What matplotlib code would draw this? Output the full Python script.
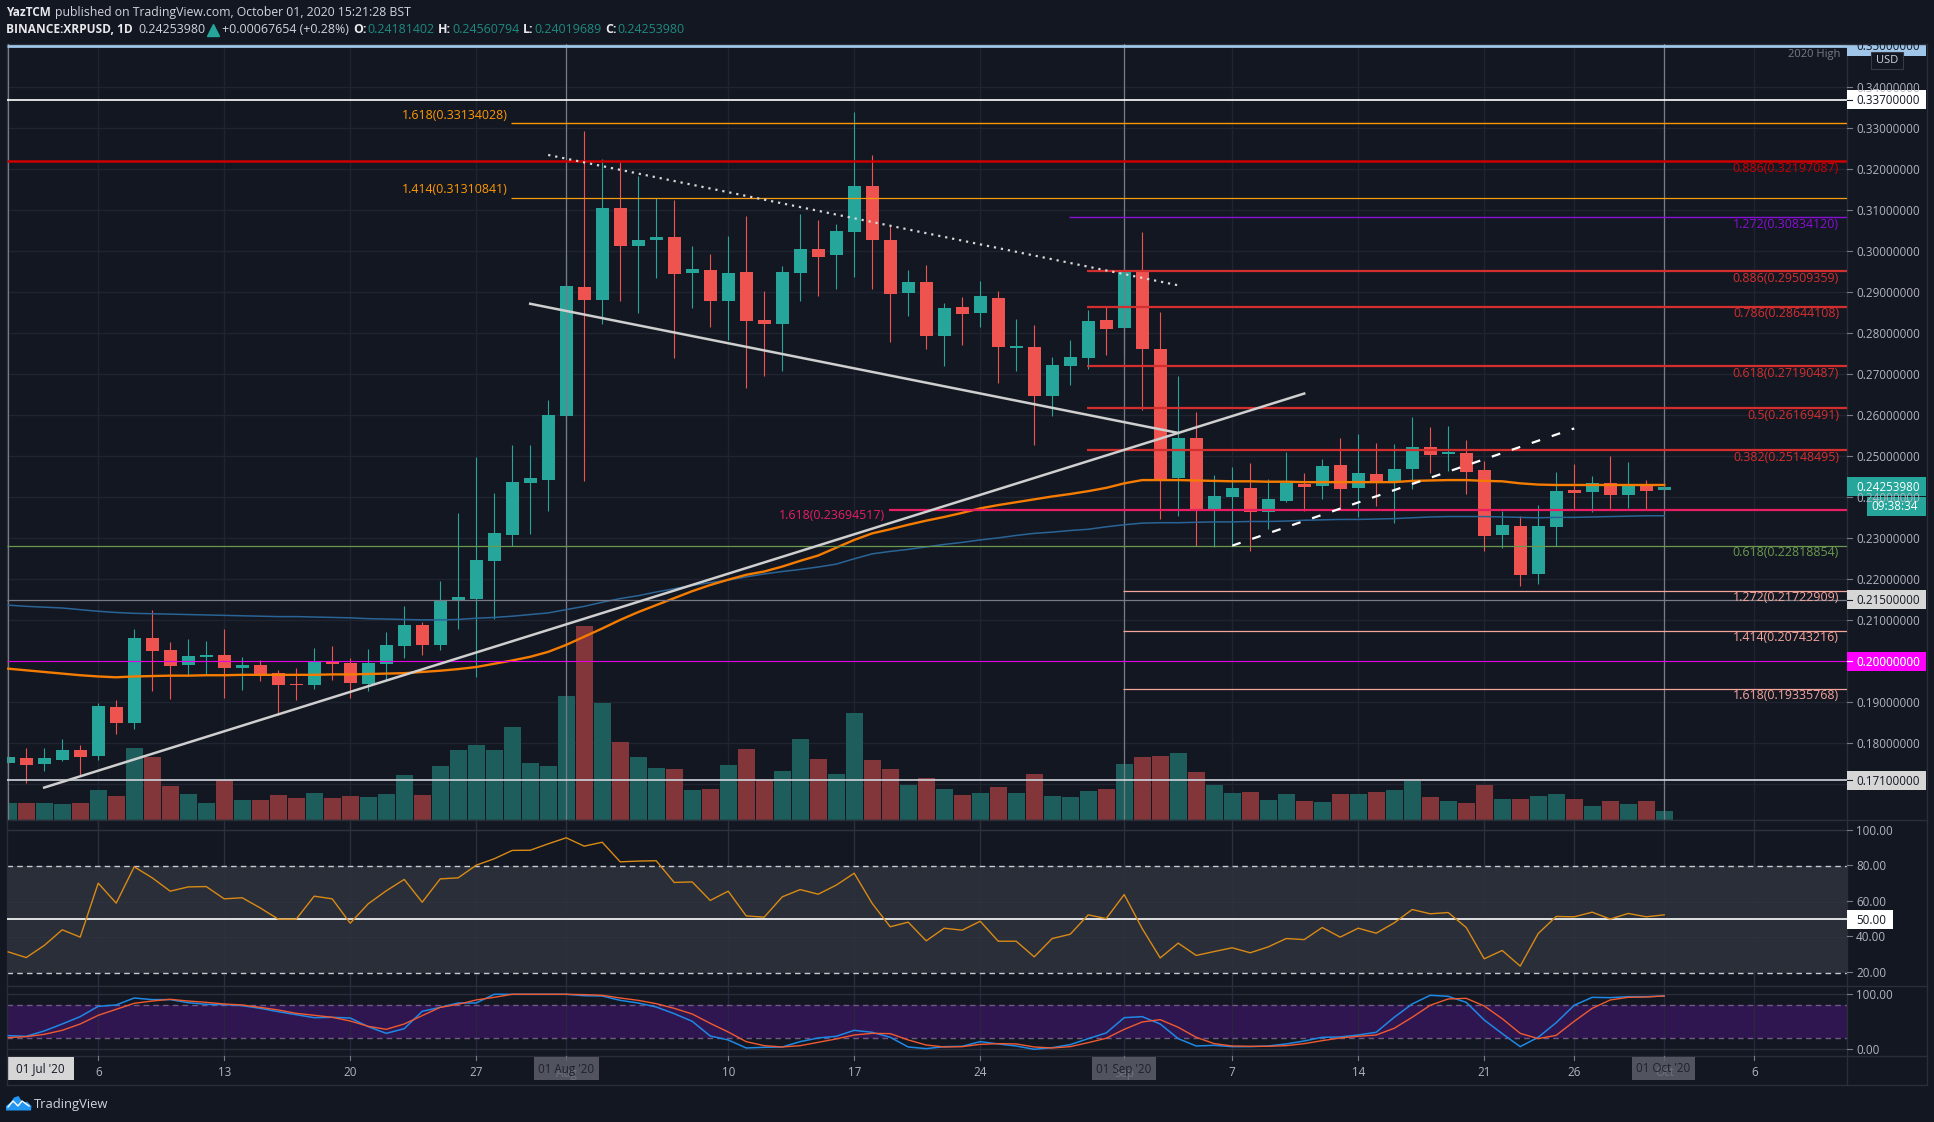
import numpy as np
import matplotlib
matplotlib.use('Agg')
import matplotlib.pyplot as plt
from matplotlib.patches import Rectangle, Polygon

plt.rcParams['font.family'] = ['Open Sans', 'DejaVu Sans']

# candles, day 0 = 01 Jul 2020
opens = [.1752,.1765,.1750,.1760,.1784,.1770,.1889,.1850,.2057,.2028,.1992,.2011,.2016,.1984,.1992,.1972,.1945,.1943,.1999,.1996,
         .1945,.1994,.2038,.2089,.2040,.2148,.2153,.2245,.2308,.2435,.2442,.2598,.2912,.2881,.3106,.3012,.3027,.3035,.2947,.2955,
         .2879,.2950,.2832,.2823,.2947,.3006,.2991,.3047,.3159,.3027,.2898,.2925,.2793,.2864,.2850,.2886,.2765,.2766,.2647,.2720,
         .2740,.2832,.2813,.2951,.2762,.2446,.2545,.2371,.2401,.2422,.2364,.2391,.2432,.2427,.2478,.2422,.2457,.2437,.2469,.2523,
         .2506,.2508,.2467,.2308,.2330,.2213,.2328,.2418,.2413,.2435,.2406,.2428,.24181402]
highs = [.1794,.1789,.1789,.1811,.1796,.1899,.1906,.2079,.2126,.2048,.2055,.2050,.2079,.2011,.2004,.1979,.1984,.2033,.2038,.2009,
         .2031,.2072,.2135,.2096,.2196,.2362,.2498,.2411,.2528,.2528,.2638,.2993,.3293,.3225,.3219,.3184,.3130,.3125,.3012,.2993,
         .3037,.3086,.2903,.2964,.3091,.3076,.3067,.3340,.3235,.3061,.2955,.2967,.2874,.2889,.2927,.2904,.2835,.2820,.2742,.2784,
         .2857,.2864,.3006,.3047,.2852,.2696,.2608,.2454,.2473,.2483,.2445,.2511,.2460,.2493,.2545,.2555,.2532,.2530,.2596,.2572,
         .2574,.2540,.2489,.2367,.2355,.2381,.2462,.2481,.2452,.2501,.2486,.2442,.24560794]
lows = [.1728,.1704,.1733,.1757,.1721,.1760,.1823,.1835,.1928,.1909,.1965,.1969,.1911,.1931,.1953,.1870,.1906,.1933,.1955,.1911,
        .1928,.1953,.2009,.2016,.2028,.2079,.1961,.2102,.2282,.2311,.2366,.2540,.2440,.2823,.2879,.2849,.2935,.2740,.2861,.2815,
        .2783,.2666,.2696,.2708,.2879,.2891,.2908,.2937,.2908,.2779,.2842,.2762,.2721,.2771,.2815,.2679,.2708,.2527,.2598,.2674,
        .2713,.2747,.2747,.2614,.2347,.2355,.2282,.2279,.2287,.2269,.2322,.2388,.2367,.2396,.2371,.2351,.2378,.2337,.2420,.2459,
        .2463,.2408,.2269,.2277,.2184,.2189,.2281,.2369,.2364,.2369,.2374,.2369,.24019689]
closes = [.1767,.1748,.1765,.1784,.1767,.1892,.1850,.2057,.2026,.1989,.2014,.2016,.1984,.1992,.1967,.1943,.1943,.1999,.1994,.1948,
          .1996,.2040,.2089,.2040,.2150,.2157,.2248,.2312,.2437,.2447,.2600,.2915,.2881,.3106,.3012,.3027,.3035,.2944,.2957,.2879,
          .2947,.2830,.2823,.2950,.3006,.2986,.3050,.3159,.3027,.2896,.2925,.2793,.2861,.2847,.2891,.2766,.2769,.2647,.2722,.2742,
          .2830,.2811,.2951,.2762,.2444,.2545,.2371,.2403,.2422,.2364,.2396,.2436,.2425,.2476,.2420,.2460,.2435,.2469,.2522,.2503,
          .2511,.2462,.2306,.2333,.2211,.2330,.2416,.2411,.2435,.2406,.2428,.2416,.24253980]
volumes = [17,17,17,16,17,30,24,72,63,34,26,17,40,20,20,25,22,27,22,24,23,26,45,25,54,70,75,70,93,57,54,124,194,117,78,63,52,51,30,31,
           55,71,40,49,81,61,46,107,60,51,35,42,31,25,27,33,27,46,24,23,29,31,56,63,64,67,48,35,27,28,20,26,19,18,26,26,28,30,39,23,
           19,17,35,21,21,24,26,21,14,19,16,19,9]

ma_orange = [.1982,.1978,.1974,.1970,.1966,.1963,.1961,.1963,.1964,.1965,.1965,.1966,.1966,.1967,.1967,.1967,.1967,.1967,.1968,.1968,
             .1969,.1970,.1971,.1974,.1977,.1981,.1986,.1994,.2002,.2011,.2023,.2040,.2060,.2080,.2101,.2120,.2137,.2154,.2171,.2186,
             .2199,.2211,.2219,.2231,.2245,.2258,.2277,.2296,.2312,.2322,.2333,.2343,.2352,.2362,.2373,.2381,.2388,.2395,.2402,.2408,
             .2415,.2423,.2434,.2442,.2442,.2442,.2441,.2440,.2439,.2439,.2438,.2438,.2437,.2437,.2437,.2437,.2437,.2437,.2440,.2441,
             .2442,.2442,.2440,.2439,.2434,.2431,.2430,.2430,.2430,.2430,.2430,.2430,.2430]
ma_blue = [.2137,.2134,.2132,.2130,.2126,.2122,.2119,.2117,.2116,.2115,.2114,.2113,.2112,.2111,.2110,.2109,.2109,.2108,.2107,.2106,
           .2104,.2103,.2102,.2101,.2101,.2102,.2105,.2107,.2110,.2114,.2118,.2126,.2134,.2144,.2153,.2160,.2169,.2177,.2185,.2192,
           .2198,.2206,.2213,.2219,.2224,.2230,.2237,.2250,.2262,.2268,.2273,.2279,.2285,.2290,.2296,.2301,.2307,.2312,.2315,.2319,
           .2322,.2328,.2333,.2337,.2338,.2338,.2339,.2340,.2340,.2341,.2341,.2342,.2344,.2345,.2346,.2346,.2347,.2348,.2350,.2352,
           .2353,.2353,.2353,.2352,.2351,.2350,.2351,.2351,.2352,.2353,.2354,.2355,.2355]

rsi = [31.7,28.5,35.3,44.1,40,70.3,59.1,79.5,73.3,65.8,68.2,68.4,61.5,62.1,56.4,50.1,50.1,63,61.5,47.8,
       58.7,66,72.4,59.6,72.7,73.3,80.4,84,88.7,88.8,92.4,95.8,91.1,93.3,82.3,82.7,82.9,70.7,71,60.6,
       65.8,51.9,51.2,62.6,66.7,64.1,69.2,75.9,58.9,45.8,48.4,37.9,45,43.9,48.9,37.7,37.7,28.9,39.2,41.6,
       52.5,50.4,63.9,44.8,28.3,36.6,29.7,31.9,34,31.2,34.5,39.2,38.6,45.4,40,45,42.2,48,55.5,53.1,
       53.8,45.4,27.8,32.5,23.7,42,51.6,51.4,54,50.1,53.3,51.4,52.5]
stoch_k = [24.8,23.6,33.3,46,59.4,78.1,80.6,93.3,90.3,90.3,84.8,81.8,81.2,79.4,74.5,68.4,63,57.5,58.2,56.9,
           41.2,29,37.5,69,76.3,84.2,84.2,100,100,100,100,100,97.5,96.9,89,84.2,76.9,64.8,50.9,24.2,
           17,2.4,3.6,4.2,13.9,20.6,23.6,34.5,30.9,21.8,4.2,1.2,4.8,5.4,13.9,9.7,6,0,3,8.4,
           19.4,29.7,57.5,59.4,46,19.4,6,7.2,4.8,4.8,6,9.7,15.1,21.8,22.4,26,30.9,58.2,82.4,98.2,
           96.3,85.4,53.3,28.5,4.8,21.8,48.4,80,94.5,93.9,95.7,95.7,97]
stoch_d = [21.2,23,27.2,34.5,46,61.8,72.7,83.6,87.8,90.9,87.8,85.4,82.4,80.6,76.3,71.5,65.4,61.8,58.2,51.5,
           41.8,36.3,46,61.2,76.3,81.8,89.7,94.5,100,100,100,100,99.4,98.2,93.3,89,83,74.5,64.2,47.2,
           31.5,13.9,6.6,4.2,6.6,12.7,18.8,26,29,28.5,17,7.8,4.2,4.8,9,10.3,9.7,4.2,2.4,4.8,
           12.1,20,36.3,49.7,53.9,40,21.8,10.3,6,5.4,5.4,6.6,10.3,15.7,20.6,23.6,26,38.2,58.2,80,
           91.5,92.7,78.8,55.7,29,19.4,25.4,50.9,74.5,89.7,94.5,95.1,97]

# horizontal levels: price, colour, width, first day, label
levels = [
    (0.35, '#9fc5e8', 2.0, None, None),
    (0.337, '#ffffff', 1.2, None, None),
    (0.33134028, '#ff9800', 1.0, 28, None),
    (0.32197087, '#cc0000', 1.8, None, '0.886(0.32197087)'),
    (0.31310841, '#f39c12', 0.9, 28, None),
    (0.3083412, '#8a0fd6', 1.0, 59, '1.272(0.30834120)'),
    (0.29509359, '#d32f2f', 1.6, 60, '0.886(0.29509359)'),
    (0.28644108, '#d32f2f', 1.6, 60, '0.786(0.28644108)'),
    (0.27190487, '#d32f2f', 1.6, 60, '0.618(0.27190487)'),
    (0.26169491, '#d32f2f', 1.6, 60, '0.5(0.26169491)'),
    (0.25148495, '#d32f2f', 1.6, 60, '0.382(0.25148495)'),
    (0.23694517, '#e91e63', 1.6, 49, None),
    (0.22818854, '#6a994e', 0.9, None, '0.618(0.22818854)'),
    (0.21722909, '#f4a59c', 0.9, 62, '1.272(0.21722909)'),
    (0.215, '#787b86', 0.9, None, None),
    (0.20743216, '#f4a59c', 0.9, 62, '1.414(0.20743216)'),
    (0.2, '#e600e6', 0.8, None, None),
    (0.19335768, '#f4a59c', 0.9, 62, '1.618(0.19335768)'),
    (0.171, '#d1d4dc', 1.2, None, None),
]
price_ticks = [round(0.18 + 0.01 * i, 2) for i in range(17)]
day_ticks = [5, 12, 19, 26, 31, 40, 47, 54, 62, 68, 75, 82, 87, 92, 97]
day_labels = ['6', '13', '20', '27', 'Aug', '10', '17', '24', 'Sep', '7', '14', '21', '26', 'Oct', '6']

BG = '#131722'
GRID = '#1f2430'
UP = '#26a69a'
DOWN = '#ef5350'
TXT = '#b2b5be'
W, H = 1934, 1122
L, R = 6.7, 1847
X0, X1 = (L - 8.2) / 18, (R - 8.2) / 18

fig = plt.figure(figsize=(W / 100, H / 100), dpi=100, facecolor=BG)


def pane(top, bottom):
    a = fig.add_axes([L / W, 1 - bottom / H, (R - L) / W, (bottom - top) / H])
    a.set_xlim(X0, X1)
    a.set_facecolor(BG)
    a.set_xticks([])
    a.set_yticks([])
    for s in a.spines.values():
        s.set_color('#2a2e39')
        s.set_linewidth(1)
    return a


ax_vol = pane(44, 820)
ax_vol.set_ylim(0, 776)
ax = ax_vol.twinx()
ax.set_xlim(X0, X1)
ax.set_ylim(0.16129, 0.35056)
ax.set_yticks([])
ax.patch.set_visible(False)
for s in ax.spines.values():
    s.set_visible(False)

days = np.arange(len(closes))
up = np.array(closes) >= np.array(opens)

# grid sits behind the volume bars, on the lower axes
for d in day_ticks:
    ax_vol.axvline(d, color=GRID, lw=1, zorder=1)
for i in range(19):
    p = 0.17 + 0.01 * i
    ax_vol.axhline((p - 0.16129) * 4100, color=GRID, lw=1, zorder=1)
ax_vol.bar(days, volumes, width=0.94, color=['#1d5e5d' if u else '#833639' for u in up], zorder=2)

colors = [UP if u else DOWN for u in up]
ax.vlines(days, lows, highs, colors=colors, lw=0.8, zorder=3)
ax.bar(days, np.abs(np.array(closes) - np.array(opens)), bottom=np.minimum(opens, closes),
       width=0.72, color=colors, zorder=3.1)

for d in [0, 31, 62, 92]:
    ax.axvline(d, color='#787b86', lw=0.9, zorder=3.5)
ax.plot(days, ma_blue, color='#2a6496', lw=1.1, zorder=4)
ax.plot(days, ma_orange, color='#f57c00', lw=1.7, zorder=4.1)

for price, c, lw, start, label in levels:
    ax.plot([X0 if start is None else start - 0.07, X1], [price, price], color=c, lw=lw, zorder=5,
            solid_capstyle='butt')

# trend lines
ax.plot([2, 72], [0.1692, 0.2653], color='#cfcfcf', lw=1.8, zorder=6)
ax.plot([29, 65], [0.2872, 0.2557], color='#cfcfcf', lw=1.8, zorder=6)
ax.plot([30, 65], [0.3235, 0.2917], color='#d8d8d8', lw=1.6, ls=(0, (1, 2.2)), zorder=6)
ax.plot([68, 87], [0.2282, 0.2568], color='#ffffff', lw=1.6, ls=(0, (4, 5.5)), zorder=6)

# RSI pane
ax_rsi = pane(820, 986)
ax_rsi.set_ylim(12.53, 105.79)
ax_rsi.axhspan(20, 80, color='#2a2e39', lw=0, zorder=0)
for d in day_ticks:
    ax_rsi.axvline(d, color='#2c303c', lw=1, zorder=1)
for v in [100, 60, 40]:
    ax_rsi.axhline(v, color='#2e323e', lw=1, zorder=1)
for v in [80, 20]:
    ax_rsi.axhline(v, color='#c8c9cc', lw=1, ls=(0, (4, 3)), zorder=2)
ax_rsi.axhline(50, color='#ffffff', lw=1.2, zorder=3)
ax_rsi.plot(days, rsi, color='#d98a14', lw=1, zorder=4)

# stochastic RSI pane
ax_st = pane(986, 1056)
ax_st.set_ylim(-12.2, 115.1)
ax_st.axhspan(20, 80, color='#2f1650', lw=0, zorder=0)
for d in day_ticks:
    ax_st.axvline(d, color='#2a2640', lw=1, zorder=1)
for v in [100, 0]:
    ax_st.axhline(v, color='#2a2e39', lw=1, zorder=1)
for v in [80, 20]:
    ax_st.axhline(v, color='#6f5a86', lw=1, ls=(0, (4, 3)), zorder=2)
ax_st.plot(days, stoch_k, color='#1e88e5', lw=1.1, zorder=4)
ax_st.plot(days, stoch_d, color='#ef5a30', lw=1.0, zorder=5)

# everything around the panes is laid out in pixels on a full figure overlay
ov = fig.add_axes([0, 0, 1, 1])
ov.set_xlim(0, W)
ov.set_ylim(H, 0)
ov.axis('off')
ov.patch.set_visible(False)


def py(p):
    return 128.3 + (0.33 - p) * 4100


def t(x, y, s, c=TXT, size=8.4, ha='left', **kw):
    ov.text(x, y + 1, s, color=c, fontsize=size, ha=ha, va='center', **kw)


def box(x0, x1, y0, y1, c, **kw):
    ov.add_patch(Rectangle((x0, y0), x1 - x0, y1 - y0, facecolor=c, edgecolor=kw.pop('ec', 'none'), lw=kw.pop('lw', 0), **kw))


# frame and time axis strip
ov.plot([R, 1927, 1927, R], [44, 44, 1085, 1085], color='#2a2e39', lw=1)
ov.plot([L, R], [1085, 1085], color='#2a2e39', lw=1)
ov.plot([L, L], [1056, 1085], color='#2a2e39', lw=1)
ov.plot([R, R], [1056, 1085], color='#2a2e39', lw=1)
ov.plot([R, 1927], [820, 820], color='#2a2e39', lw=1)
ov.plot([R, 1927], [986, 986], color='#2a2e39', lw=1)
ov.plot([R, 1927], [1056, 1056], color='#2a2e39', lw=1)

# price axis
for p in price_ticks:
    ov.plot([R, R + 5], [py(p), py(p)], color='#787b86', lw=0.8)
    t(1856, py(p), '%.8f' % p)

# header
t(6, 11.5, 'YazTCM', c='#e8e9ec', size=8.5, fontweight='bold')
t(55, 11.5, 'published on TradingView.com, October 01, 2020 15:21:28 BST', c='#d1d4dc', size=8.8)
t(6, 28.7, 'BINANCE:XRPUSD, 1D', c='#e8e9ec', size=8.6, fontweight='bold')
t(138, 28.7, '0.24253980', c='#d1d4dc', size=8.9)
ov.plot([213], [29.5], marker='^', color=UP, ms=8, ls='none')
t(222, 28.7, '+0.00067654 (+0.28%)', c='#d1d4dc', size=8.9)
for lx, vx, lab, val in [(353, 367, 'O:', '0.24181402'), (438, 452, 'H:', '0.24560794'),
                         (523, 534, 'L:', '0.24019689'), (605, 617, 'C:', '0.24253980')]:
    t(lx, 28.7, lab, c='#e8e9ec', size=8.9, fontweight='bold')
    t(vx, 28.7, val, c='#1f8a80', size=8.9)

# level labels
for price, c, lw, start, label in levels:
    if label:
        t(1839, py(price) + 6, label, c=c, size=8.9, ha='right')
t(507.6, 114, '1.618(0.33134028)', c='#ff9800', size=8.9, ha='right')
t(507.6, 188.7, '1.414(0.31310841)', c='#ff9800', size=8.9, ha='right')
t(885, 514, '1.618(0.23694517)', c='#e91e63', size=8.9, ha='right')
t(1840.7, 53, '2020 High', c='#787b86', size=8, ha='right')

# price axis boxes
box(R, 1926, 44, 56, '#9fc5e8')
t(1856, 45, '0.35000000', c='#131722')
box(1871, 1903, 51.7, 69.3, BG, ec='#363a45', lw=0.8)
t(1887, 59.5, 'USD', ha='center', c='#d1d4dc', size=8)
for p, c, tc in [(0.337, '#ffffff', '#131722'), (0.215, '#d6d6d6', '#131722'), (0.2, '#ff00ff', '#ffffff'),
                 (0.171, '#d6d6d6', '#131722')]:
    box(R, 1926, py(p) - 9.5, py(p) + 9.5, c)
    ov.plot([R, R + 5], [py(p), py(p)], color=tc, lw=0.8)
    t(1856, py(p), '%.8f' % p, c=tc)
box(R, 1926, 477.3, 496, UP)
t(1856, py(0.2425398), '0.24253980', c='#ffffff')
box(1867, 1926, 497, 516, UP)
t(1871, 505.5, '09:38:34', c='#ffffff')

# RSI and stochastic axis labels
for v, y in [(100, 830.3), (80, 865.3), (60, 901.3), (40, 936.3), (20, 972.3), (100, 994.3), (0, 1049.3)]:
    ov.plot([R, R + 5], [y, y], color='#787b86', lw=0.8)
    t(1856, y, '%.2f' % v)
box(R, 1893.4, 910, 929, '#ffffff')
t(1856, 919.3, '50.00', c='#131722')

# time axis, month names stay under the translucent date boxes
for d, lab in zip(day_ticks, day_labels):
    x = 8.2 + 18 * d
    ov.plot([x, x], [1056, 1060], color='#787b86', lw=0.8)
    is_month = lab in ['Aug', 'Sep', 'Oct']
    t(x, 1072, lab, ha='center', c='#d1d4dc' if is_month else TXT, zorder=2 if is_month else 3)
box(7, 74, 1057, 1080, '#d6d6d6')
t(40.5, 1068, "01 Jul '20", ha='center', c='#131722')
for x0, x1, lab in [(533.5, 598.7, "01 Aug '20"), (1091.5, 1155.8, "01 Sep '20"), (1631.5, 1695.4, "01 Oct '20")]:
    ov.add_patch(Rectangle((x0, 1057), x1 - x0, 23, facecolor='#5d606b', alpha=0.85, lw=0, zorder=2.5))
    t((x0 + x1) / 2, 1068, lab, ha='center', c='#1e222d')

# logo
ov.add_patch(Polygon([(6, 1110.5), (31, 1110.5), (31.5, 1106), (27, 1101.5), (23, 1103), (18.5, 1096),
                      (14, 1097.5), (11, 1102), (6, 1106)], closed=True, color='#2196f3', lw=0))
ov.plot([8, 13, 18, 22, 29], [1107, 1101, 1106, 1101, 1106], color='#ffffff', lw=1)
t(34, 1103.7, 'TradingView', c='#d1d4dc', size=9.4)

plt.savefig('out.png', dpi=100, facecolor=BG)
